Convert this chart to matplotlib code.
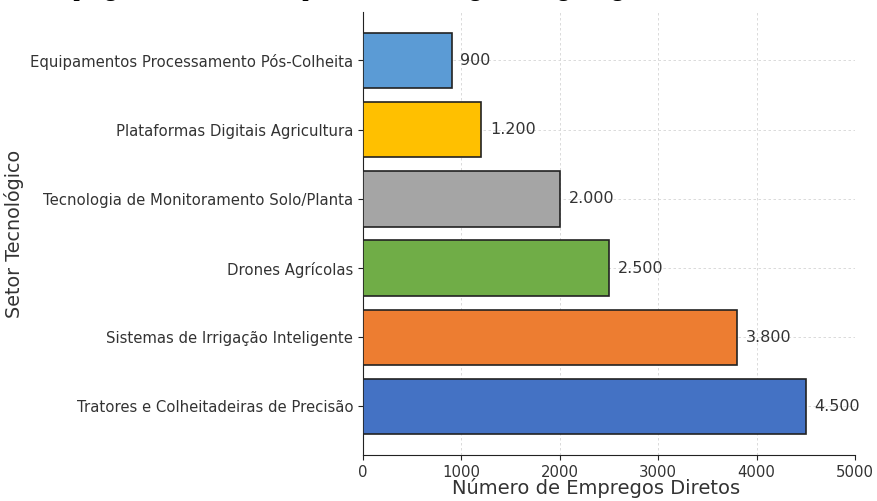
import matplotlib
matplotlib.use("Agg")
import matplotlib.pyplot as plt

# setores (de baixo para cima) e empregos diretos
setores = [
    "Tratores e Colheitadeiras de Precisão",
    "Sistemas de Irrigação Inteligente",
    "Drones Agrícolas",
    "Tecnologia de Monitoramento Solo/Planta",
    "Plataformas Digitais Agricultura",
    "Equipamentos Processamento Pós-Colheita",
]
empregos = [4500, 3800, 2500, 2000, 1200, 900]
cores = ["#4472C4", "#ED7D31", "#70AD47", "#A5A5A5", "#FFC000", "#5B9BD5"]

titulo = "Empregos Diretos Gerados por Setor Tecnológico no Agronegócio"
xticks = [0, 1000, 2000, 3000, 4000, 5000]

fig = plt.figure(figsize=(8.77, 5.01), dpi=100)
ax = fig.add_axes([0.414, 0.092, 0.561, 0.884])

txt = "#333333"
ax.barh(setores, empregos, height=0.8, color=cores, edgecolor="#222222", linewidth=1.2, zorder=3)

for i, v in enumerate(empregos):
    ax.text(v + 90, i, f"{v:,}".replace(",", "."), va="center", ha="left",
            fontsize=11.5, color=txt)

ax.set_xlim(0, 5000)
ax.set_ylim(-0.7, 5.7)
ax.set_xticks(xticks)
ax.grid(True, linestyle=(0, (3, 3)), color="#d5d5d5", linewidth=0.6, zorder=0)
ax.spines["top"].set_visible(False)
ax.spines["right"].set_visible(False)
ax.spines["left"].set_color("#222222")
ax.spines["bottom"].set_color("#222222")
ax.tick_params(axis="both", labelsize=10.7, colors=txt)
ax.tick_params(axis="both", color="#222222")

ax.set_xlabel("Número de Empregos Diretos", fontsize=14, color=txt)
ax.xaxis.set_label_coords(0.474, -0.053)
ax.set_ylabel("Setor Tecnológico", fontsize=13.8, color=txt)
ax.yaxis.set_label_coords(-0.69, 0.5)

# título cortado no topo da imagem
fig.text(0.4, 1.007, titulo, ha="center", va="baseline", fontsize=16,
         fontweight="bold", family="Liberation Serif")

fig.savefig("out.png", dpi=100)
